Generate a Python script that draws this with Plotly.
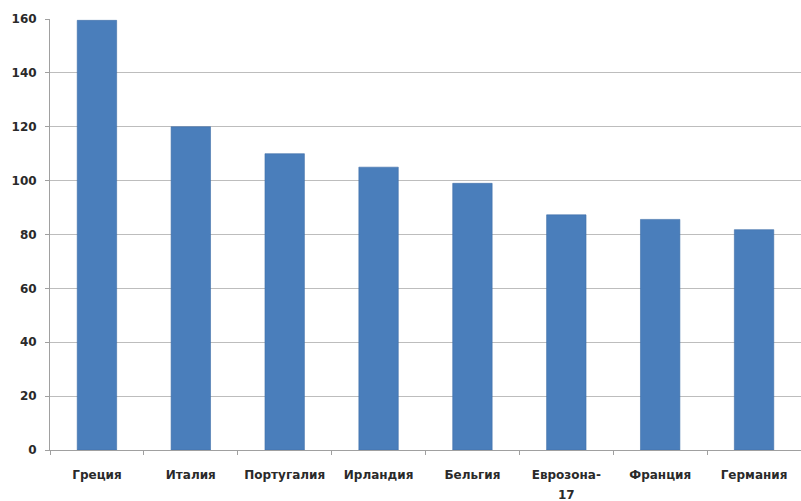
import plotly.graph_objects as go

# Public debt, % of GDP
countries = ["Греция", "Италия", "Португалия", "Ирландия", "Бельгия",
             "Еврозона-17", "Франция", "Германия"]
tick_labels = ["Греция", "Италия", "Португалия", "Ирландия", "Бельгия",
               "Еврозона-", "Франция", "Германия"]
wrapped_suffix = "17"  # second line of the "Еврозона-17" label
debt = [159.5, 120, 110, 105, 99, 87.3, 85.6, 81.8]
y_ticks = [0, 20, 40, 60, 80, 100, 120, 140, 160]

label_font = dict(family="DejaVu Sans, Arial, sans-serif", size=12,
                  color="#2a2a2a", weight="bold")

fig = go.Figure(
    go.Bar(
        x=countries,
        y=debt,
        marker=dict(color="#4a7ebb", line=dict(color="#3f6ea8", width=0.6)),
        width=0.42,
    )
)

fig.update_layout(
    width=801,
    height=501,
    margin=dict(l=50, r=0, t=19, b=51),
    paper_bgcolor="white",
    plot_bgcolor="white",
    showlegend=False,
    bargap=0.58,
)

fig.update_xaxes(
    type="category",
    tickvals=countries,
    ticktext=tick_labels,
    tickson="boundaries",
    ticks="outside",
    ticklen=4,
    tickcolor="#a0a0a0",
    showline=True,
    linecolor="#a0a0a0",
    linewidth=1,
    showgrid=False,
    tickfont=label_font,
    ticklabelstandoff=14,
)

fig.update_yaxes(
    range=[0, 160],
    tickvals=y_ticks,
    ticks="outside",
    ticklen=4,
    tickcolor="#a0a0a0",
    showline=True,
    linecolor="#a0a0a0",
    linewidth=1,
    showgrid=True,
    gridcolor="#bdbdbd",
    gridwidth=1,
    zeroline=False,
    tickfont=label_font,
    ticklabelstandoff=6,
)

# second line of the wrapped euro-area label, with wider line spacing
fig.add_annotation(
    x=countries[5], xref="x",
    y=0, yref="paper",
    yanchor="top", yshift=-36,
    text=wrapped_suffix, showarrow=False,
    font=label_font,
)

fig.write_html("out.html")
